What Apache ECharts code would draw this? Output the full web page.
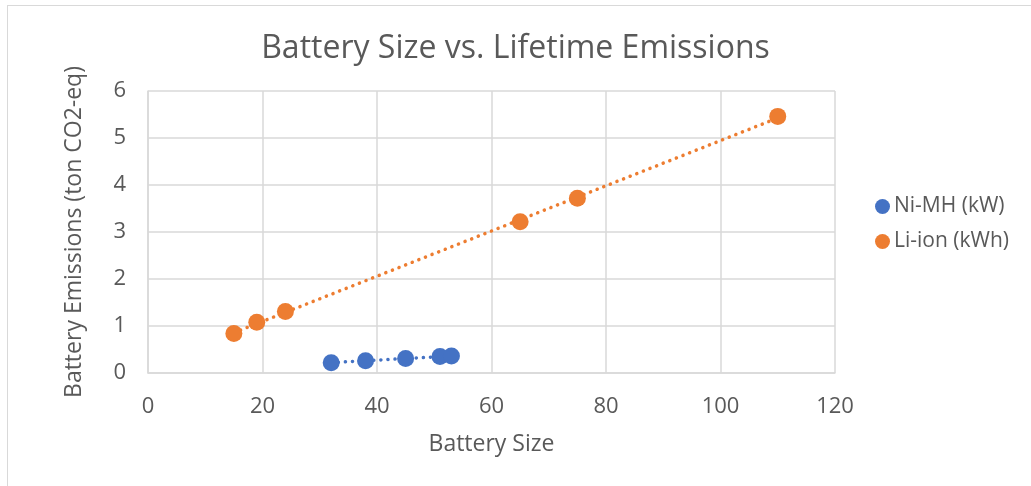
<!DOCTYPE html>
<html><head><meta charset="utf-8">
<script src="https://cdn.jsdelivr.net/npm/echarts@6/dist/echarts.min.js"></script>
<style>
html,body{margin:0;padding:0;background:#fff;overflow:hidden}
#frame{position:absolute;left:7px;top:5px;width:1030px;height:500px;border:1.5px solid #d9d9d9;box-sizing:border-box}
#c{position:absolute;left:0;top:0;width:1031px;height:486px}
</style></head>
<body>
<div id="frame"></div>
<div id="c"></div>
<script>
const nimhX = [32, 38, 45, 51, 53];
const nimhY = [0.22, 0.26, 0.31, 0.35, 0.36];
const liX = [15, 19, 24, 65, 75, 110];
const liY = [0.84, 1.08, 1.31, 3.22, 3.72, 5.46];
const seriesNames = ['Ni-MH (kW)', 'Li-ion (kWh)'];
const colors = ['#4472c4', '#ed7d31'];
const xTicks = [0, 20, 40, 60, 80, 100, 120];
const yTicks = [0, 1, 2, 3, 4, 5, 6];

function fit(xs, ys) {
  const n = xs.length;
  const mx = xs.reduce((a, b) => a + b, 0) / n;
  const my = ys.reduce((a, b) => a + b, 0) / n;
  let sxy = 0, sxx = 0;
  for (let i = 0; i < n; i++) { sxy += (xs[i] - mx) * (ys[i] - my); sxx += (xs[i] - mx) ** 2; }
  const b = sxy / sxx, a = my - b * mx;
  const x0 = Math.min(...xs), x1 = Math.max(...xs);
  return [[x0, a + b * x0], [x1, a + b * x1]];
}
const pairs = (xs, ys) => xs.map((x, i) => [x, ys[i]]);

const font = '"Open Sans", sans-serif';
const chart = echarts.init(document.getElementById('c'));
chart.setOption({
  animation: false,
  color: colors,
  title: { text: 'Battery Size vs. Lifetime Emissions', left: 'center', top: 28,
    textStyle: { fontFamily: font, fontSize: 32, fontWeight: 'normal', color: '#595959' } },
  grid: { left: 148, right: 196, top: 91, bottom: 113 },
  legend: {
    orient: 'vertical', left: 870, top: 191, itemGap: 14, itemWidth: 15, itemHeight: 15,
    data: seriesNames.map(n => ({ name: n, icon: 'circle' })),
    textStyle: { fontFamily: font, fontSize: 21, color: '#595959', padding: [0, 0, 0, -1] }
  },
  xAxis: {
    type: 'value', min: 0, max: 120, interval: 20,
    name: 'Battery Size', nameLocation: 'middle', nameGap: 60,
    nameTextStyle: { fontFamily: font, fontSize: 23, color: '#595959' },
    axisLine: { show: true, lineStyle: { color: '#d9d9d9', width: 1.5 } },
    axisTick: { show: false },
    axisLabel: { fontFamily: font, fontSize: 22, color: '#595959', margin: 23,
      formatter: v => xTicks.includes(v) ? String(v) : '' },
    splitLine: { show: true, lineStyle: { color: '#d9d9d9', width: 1.5 } }
  },
  yAxis: {
    type: 'value', min: 0, max: 6, interval: 1,
    name: 'Battery Emissions (ton CO2-eq)', nameLocation: 'middle', nameGap: 62, nameRotate: 90,
    nameTextStyle: { fontFamily: font, fontSize: 23, color: '#595959' },
    axisLine: { show: true, lineStyle: { color: '#d9d9d9', width: 1.5 } },
    axisTick: { show: false },
    axisLabel: { fontFamily: font, fontSize: 22, color: '#595959', margin: 22,
      formatter: v => yTicks.includes(v) ? String(v) : '' },
    splitLine: { show: true, lineStyle: { color: '#d9d9d9', width: 1.5 } }
  },
  series: [
    { name: seriesNames[0], type: 'line', data: fit(nimhX, nimhY), symbol: 'none', z: 2,
      itemStyle: { color: colors[0] },
      lineStyle: { color: colors[0], width: 3.5, type: [0.1, 7], cap: 'round' }, silent: true },
    { name: seriesNames[1], type: 'line', data: fit(liX, liY), symbol: 'none', z: 2,
      itemStyle: { color: colors[1] },
      lineStyle: { color: colors[1], width: 3.5, type: [0.1, 7], cap: 'round' }, silent: true },
    { name: seriesNames[0], type: 'scatter', data: pairs(nimhX, nimhY), symbolSize: 17, z: 3,
      itemStyle: { color: colors[0], opacity: 1 } },
    { name: seriesNames[1], type: 'scatter', data: pairs(liX, liY), symbolSize: 17, z: 3,
      itemStyle: { color: colors[1], opacity: 1 } }
  ]
});
</script>
</body></html>
